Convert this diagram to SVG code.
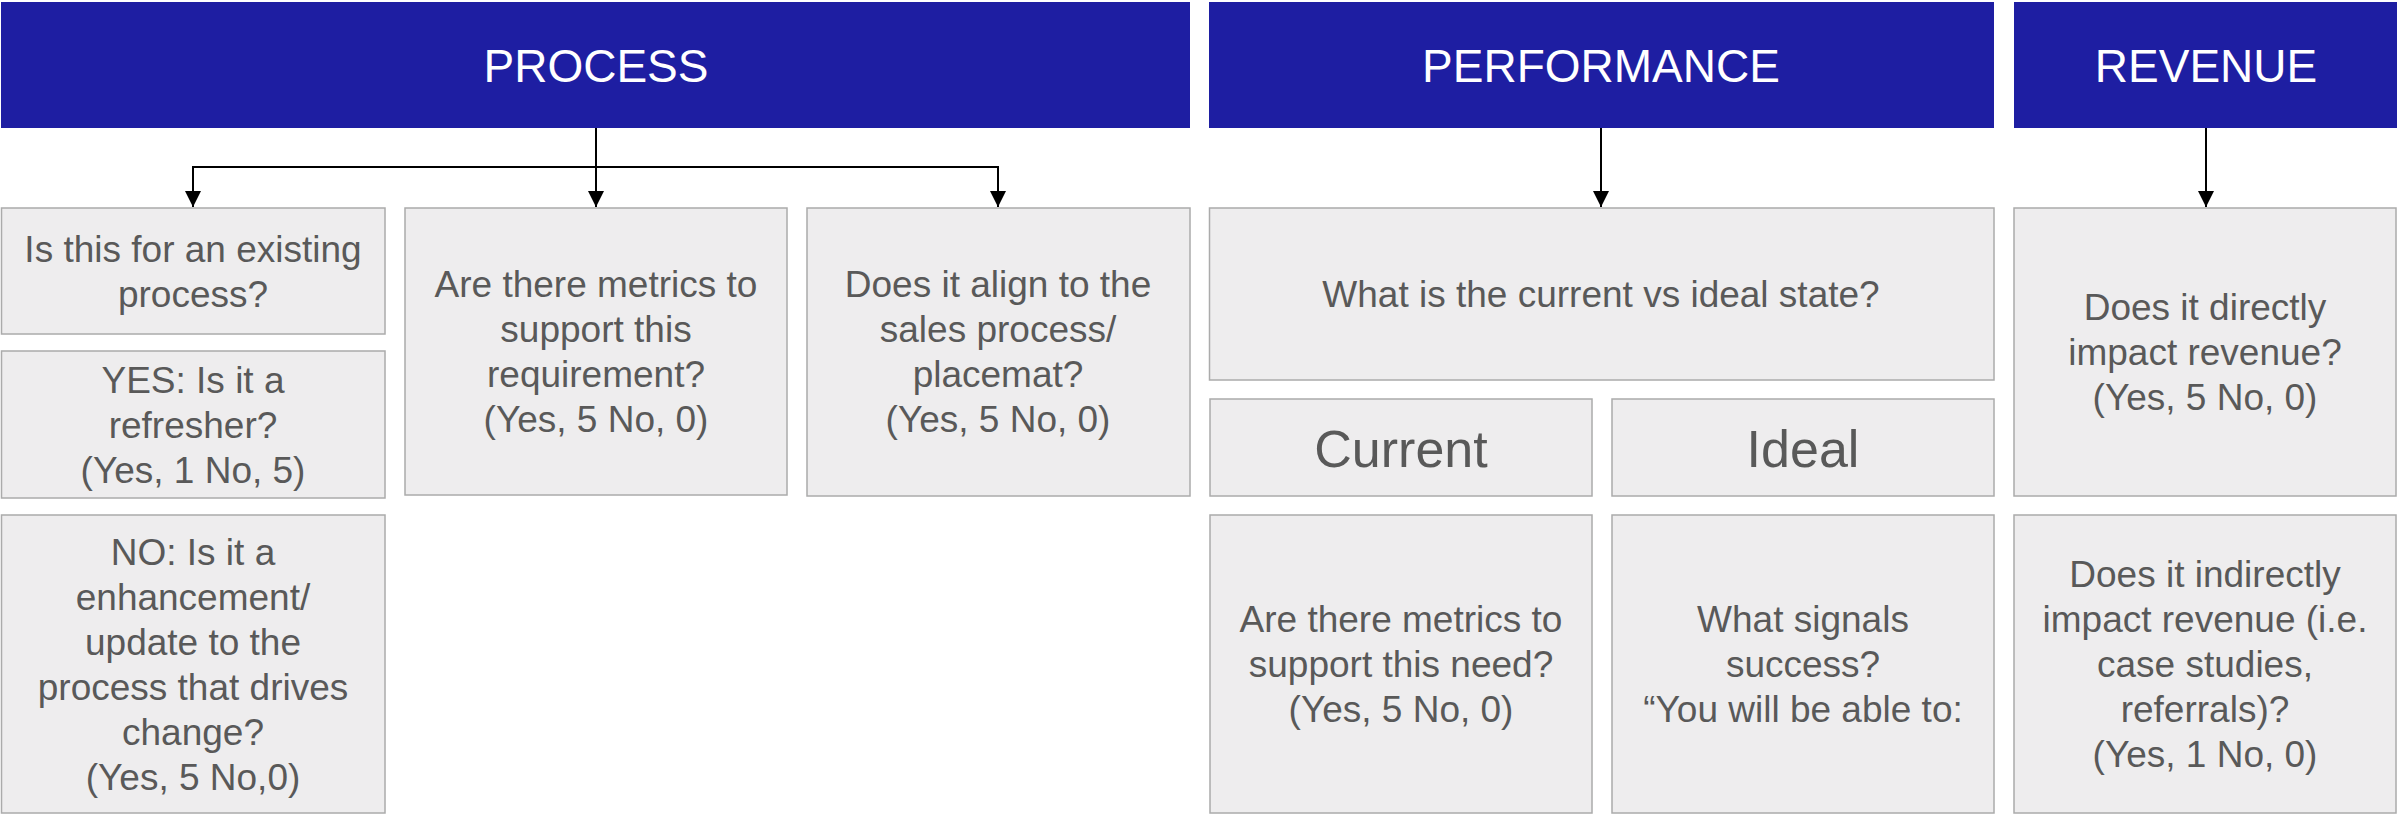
<svg xmlns="http://www.w3.org/2000/svg" width="2397" height="814" viewBox="0 0 2397 814">
<style>
.hdr{fill:#1E1EA2}
.ht{fill:#FFFFFF;font-family:"Liberation Sans",Arial,sans-serif;font-size:46px;text-anchor:middle}
.box{fill:#EEEDEE;stroke:#ABABAB;stroke-width:1.5}
.bt{fill:#595959;font-family:"Liberation Sans",Arial,sans-serif;font-size:37px;text-anchor:middle}
.big{font-size:52px}
.con{fill:none;stroke:#000000;stroke-width:2}
</style>
<defs>
<marker id="arr" markerUnits="userSpaceOnUse" markerWidth="16" markerHeight="16" viewBox="0 0 16 16" refX="16" refY="8" orient="auto">
<path d="M0,0 L16,8 L0,16 z" fill="#000000"/>
</marker>
</defs>
<rect width="2397" height="814" fill="#FFFFFF"/>

<g id="hdr-process"><rect class="hdr" x="1" y="2" width="1189" height="126"/><text class="ht" x="596" y="82">PROCESS</text></g>
<g id="hdr-performance"><rect class="hdr" x="1209" y="2" width="785" height="126"/><text class="ht" x="1601" y="82">PERFORMANCE</text></g>
<g id="hdr-revenue"><rect class="hdr" x="2014" y="2" width="383" height="126"/><text class="ht" x="2206" y="82">REVENUE</text></g>

<g id="connectors">
<path class="con" d="M596,128 V207" marker-end="url(#arr)"/>
<path class="con" d="M596,167 H193 V207" marker-end="url(#arr)"/>
<path class="con" d="M596,167 H998 V207" marker-end="url(#arr)"/>
<path class="con" d="M1601,128 V207" marker-end="url(#arr)"/>
<path class="con" d="M2206,128 V207" marker-end="url(#arr)"/>
</g>

<g id="n-existing"><rect class="box" x="1.5" y="208" width="383.5" height="126"/>
<text class="bt" x="193"><tspan x="193" y="262">Is this for an existing</tspan><tspan x="193" y="307">process?</tspan></text></g>

<g id="n-yes"><rect class="box" x="1.5" y="351" width="383.5" height="147"/>
<text class="bt"><tspan x="193" y="393">YES: Is it a</tspan><tspan x="193" y="438">refresher?</tspan><tspan x="193" y="483">(Yes, 1 No, 5)</tspan></text></g>

<g id="n-no"><rect class="box" x="1.5" y="515" width="383.5" height="298"/>
<text class="bt"><tspan x="193" y="565">NO: Is it a</tspan><tspan x="193" y="610">enhancement/</tspan><tspan x="193" y="655">update to the</tspan><tspan x="193" y="700">process that drives</tspan><tspan x="193" y="745">change?</tspan><tspan x="193" y="790">(Yes, 5 No,0)</tspan></text></g>

<g id="n-metrics"><rect class="box" x="405" y="208" width="382" height="287"/>
<text class="bt"><tspan x="596" y="297">Are there metrics to</tspan><tspan x="596" y="342">support this</tspan><tspan x="596" y="387">requirement?</tspan><tspan x="596" y="432">(Yes, 5 No, 0)</tspan></text></g>

<g id="n-align"><rect class="box" x="807" y="208" width="383" height="288"/>
<text class="bt"><tspan x="998" y="297">Does it align to the</tspan><tspan x="998" y="342">sales process/</tspan><tspan x="998" y="387">placemat?</tspan><tspan x="998" y="432">(Yes, 5 No, 0)</tspan></text></g>

<g id="n-state"><rect class="box" x="1209.5" y="208" width="784.5" height="172"/>
<text class="bt" x="1601" y="307">What is the current vs ideal state?</text></g>

<g id="n-current"><rect class="box" x="1210" y="399" width="382" height="97"/>
<text class="bt big" x="1401" y="467">Current</text></g>

<g id="n-ideal"><rect class="box" x="1612" y="399" width="382" height="97"/>
<text class="bt big" x="1803" y="467">Ideal</text></g>

<g id="n-need"><rect class="box" x="1210" y="515" width="382" height="298"/>
<text class="bt"><tspan x="1401" y="632">Are there metrics to</tspan><tspan x="1401" y="677">support this need?</tspan><tspan x="1401" y="722">(Yes, 5 No, 0)</tspan></text></g>

<g id="n-signals"><rect class="box" x="1612" y="515" width="382" height="298"/>
<text class="bt"><tspan x="1803" y="632">What signals</tspan><tspan x="1803" y="677">success?</tspan><tspan x="1803" y="722">“You will be able to:</tspan></text></g>

<g id="n-direct"><rect class="box" x="2014" y="208" width="382" height="288"/>
<text class="bt"><tspan x="2205" y="320">Does it directly</tspan><tspan x="2205" y="365">impact revenue?</tspan><tspan x="2205" y="410">(Yes, 5 No, 0)</tspan></text></g>

<g id="n-indirect"><rect class="box" x="2014" y="515" width="382" height="298"/>
<text class="bt"><tspan x="2205" y="587">Does it indirectly</tspan><tspan x="2205" y="632">impact revenue (i.e.</tspan><tspan x="2205" y="677">case studies,</tspan><tspan x="2205" y="722">referrals)?</tspan><tspan x="2205" y="767">(Yes, 1 No, 0)</tspan></text></g>
</svg>
